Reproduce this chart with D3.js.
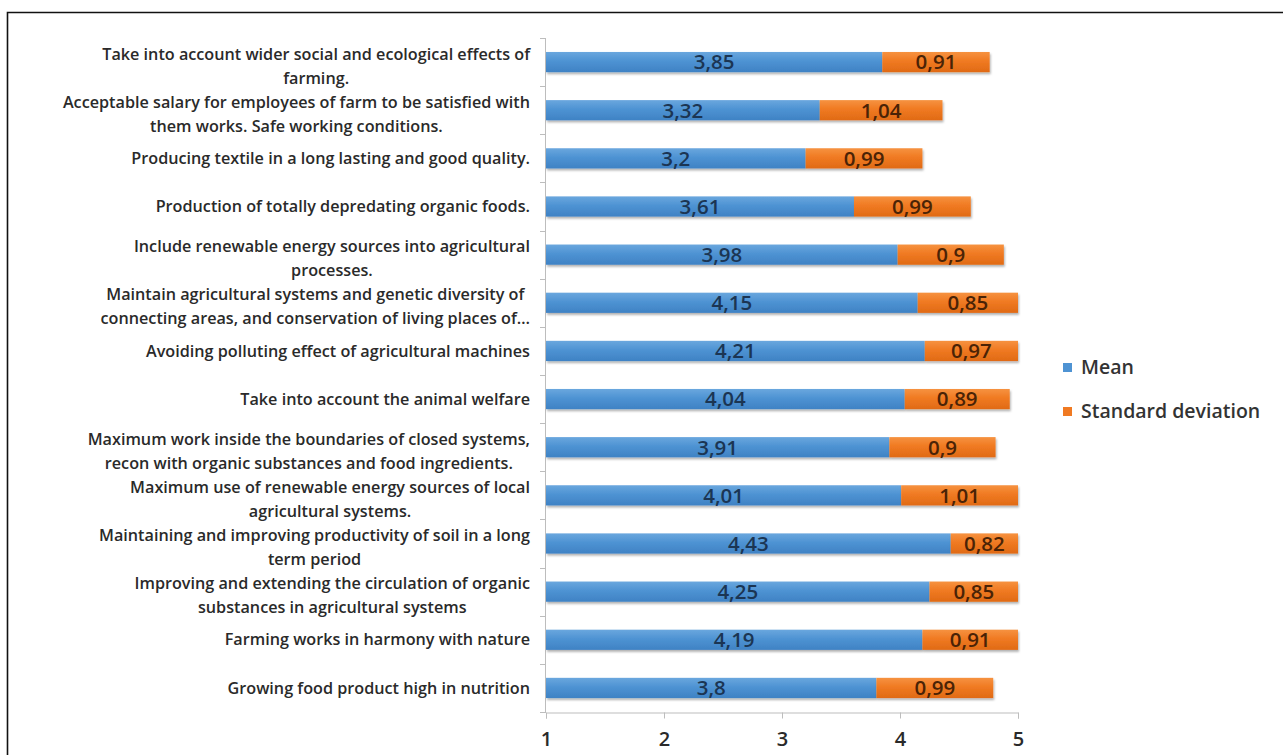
<!DOCTYPE html>
<html><head><meta charset="utf-8">
<script src="https://cdn.jsdelivr.net/npm/d3@7/dist/d3.min.js"></script>
<style>body{margin:0;background:#fff;}svg{display:block;}</style>
</head><body><svg id="c" width="1283" height="755"></svg>
<script>
const categories = [
  "Take into account wider social and ecological effects of\nfarming.",
  "Acceptable salary for employees of farm to be satisfied with\nthem works. Safe working conditions.",
  "Producing textile in a long lasting and good quality.",
  "Production of totally depredating organic foods.",
  "Include renewable energy sources into agricultural\nprocesses.",
  "Maintain agricultural systems and genetic diversity of\nconnecting areas, and conservation of living places of…",
  "Avoiding polluting effect of agricultural machines",
  "Take into account the animal welfare",
  "Maximum work inside the boundaries of closed systems,\nrecon with organic substances and food ingredients.",
  "Maximum use of renewable energy sources of local\nagricultural systems.",
  "Maintaining and improving productivity of soil in a long\nterm period",
  "Improving and extending the circulation of  organic\nsubstances in agricultural systems",
  "Farming works in harmony with nature",
  "Growing food product high in nutrition"
];
const meanValues = [3.85, 3.32, 3.2, 3.61, 3.98, 4.15, 4.21, 4.04, 3.91, 4.01, 4.43, 4.25, 4.19, 3.8];
const sdValues   = [0.91, 1.04, 0.99, 0.99, 0.9, 0.85, 0.97, 0.89, 0.9, 1.01, 0.82, 0.85, 0.91, 0.99];
const xTicks = [1, 2, 3, 4, 5];
const seriesNames = ["Mean", "Standard deviation"];

const FONT = "'Open Sans', Lato, sans-serif";
const svg = d3.select("#c");
const fmt = v => String(v).replace(".", ",");

// border
svg.append("path").attr("d", "M7.5,760 L7.5,12.5 L1290,12.5")
  .attr("fill", "none").attr("stroke", "#111").attr("stroke-width", 1.6);

const x = d3.scaleLinear().domain([1, 5]).range([546, 1018]);
const y = d3.scaleBand().domain(d3.range(categories.length)).range([38, 712]).paddingInner(0.58).paddingOuter(0.29);

const defs = svg.append("defs");
function grad(id, top, mid, bot) {
  const g = defs.append("linearGradient").attr("id", id).attr("x1", 0).attr("y1", 0).attr("x2", 0).attr("y2", 1);
  g.append("stop").attr("offset", "0%").attr("stop-color", top);
  g.append("stop").attr("offset", "45%").attr("stop-color", mid);
  g.append("stop").attr("offset", "100%").attr("stop-color", bot);
}
grad("gb", "#6aa7de", "#4e93d3", "#3f82c4");
grad("go", "#f69240", "#f07a22", "#e06a15");
const f = defs.append("filter").attr("id", "sh").attr("x", "-5%").attr("y", "-30%").attr("width", "110%").attr("height", "170%");
f.append("feDropShadow").attr("dx", 1).attr("dy", 2).attr("stdDeviation", 1.2).attr("flood-color", "#000").attr("flood-opacity", 0.3);

// y axis line and ticks
const axisColor = "#bdbdbd";
svg.append("line").attr("x1", 545.5).attr("x2", 545.5).attr("y1", 38).attr("y2", 712).attr("stroke", axisColor);
d3.range(categories.length + 1).forEach(i => {
  const yy = Math.round(38 + i * (674 / categories.length)) + 0.5;
  svg.append("line").attr("x1", 540).attr("x2", 546).attr("y1", yy).attr("y2", yy).attr("stroke", axisColor);
});

// x axis
const xAxis = d3.axisBottom(x).tickValues(xTicks).tickSize(6).tickPadding(13).tickFormat(d => d);
const xg = svg.append("g").attr("transform", "translate(0,712.5)").call(xAxis);
xg.select(".domain").attr("stroke", axisColor);
xg.selectAll(".tick line").attr("stroke", axisColor);
xg.selectAll("text").attr("font-family", FONT).attr("font-weight", 600).attr("font-size", 20).attr("fill", "#2a2a2a");

// bars
const rows = svg.append("g");
categories.forEach((c, i) => {
  const m = meanValues[i], s = sdValues[i];
  const end = Math.min(m + s, 5);
  const y0 = y(i), h = y.bandwidth();
  const g = rows.append("g");
  g.append("rect").attr("x", x(1)).attr("y", y0).attr("width", x(m) - x(1)).attr("height", h)
    .attr("fill", "url(#gb)").attr("filter", "url(#sh)");
  g.append("rect").attr("x", x(m)).attr("y", y0).attr("width", x(end) - x(m)).attr("height", h)
    .attr("fill", "url(#go)").attr("filter", "url(#sh)");
  g.append("text").attr("x", (x(1) + x(m)) / 2).attr("y", y0 + h / 2).attr("dy", "0.36em")
    .attr("text-anchor", "middle").attr("font-family", FONT).attr("font-weight", 600).attr("font-size", 20.5)
    .attr("fill", "#1b3553").text(fmt(m));
  g.append("text").attr("x", (x(m) + x(end)) / 2).attr("y", y0 + h / 2).attr("dy", "0.36em")
    .attr("text-anchor", "middle").attr("font-family", FONT).attr("font-weight", 600).attr("font-size", 20.5)
    .attr("fill", "#4a2306").text(fmt(s));
});

// category labels
const lab = svg.append("g").attr("font-family", FONT).attr("font-weight", 600).attr("font-size", 16.2).attr("fill", "#2a2a2a");
const rightEdge = 530, lineH = 24;
categories.forEach((c, i) => {
  const lines = c.split("\n");
  const cy = y(i) + y.bandwidth() / 2 + (lines.length > 1 ? 4 : 0);
  const tmp = lines.map((ln, k) => lab.append("text").attr("y", cy + (k - (lines.length - 1) / 2) * lineH).attr("dy", "0.35em").attr("text-anchor", "middle").text(ln));
  const W = d3.max(tmp, t => t.node().getComputedTextLength());
  tmp.forEach(t => t.attr("x", rightEdge - W / 2));
});

// legend
const lg = svg.append("g").attr("font-family", FONT).attr("font-weight", 600).attr("font-size", 19.5).attr("fill", "#333");
const lcol = ["#4e93d3", "#f07a22"];
seriesNames.forEach((n, k) => {
  const ly = 367 + k * 44;
  lg.append("rect").attr("x", 1063).attr("y", ly - 4).attr("width", 9).attr("height", 9).attr("fill", lcol[k]);
  lg.append("text").attr("x", 1081).attr("y", ly).attr("dy", "0.35em").text(n);
});
</script></body></html>
